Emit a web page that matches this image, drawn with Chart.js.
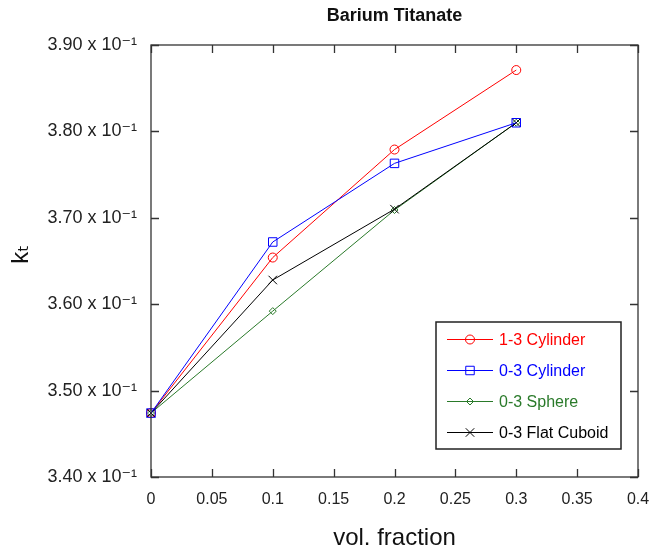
<!DOCTYPE html>
<html lang="en">
<head>
<meta charset="UTF-8">
<title>Barium Titanate</title>
<script src="https://cdn.jsdelivr.net/npm/chart.js@4.4.1/dist/chart.umd.min.js"></script>
<style>
    html, body { margin: 0; padding: 0; background: #fff; }
    .chart-box { position: relative; width: 652px; height: 556px; }
</style>
</head>
<body>
<div class="chart-box"><canvas id="myChart"></canvas></div>
<script>
    // data
    var volFraction = [0, 0.1, 0.2, 0.3];
    var cyl13 = [0.3474, 0.3654, 0.3779, 0.3871];
    var cyl03 = [0.3474, 0.3672, 0.3763, 0.3810];
    var sphere03 = [0.3474, 0.3592, 0.3709, 0.3810];
    var cuboid03 = [0.3474, 0.3628, 0.3710, 0.3810];

    var seriesNames = ['1-3 Cylinder', '0-3 Cylinder', '0-3 Sphere', '0-3 Flat Cuboid'];
    var seriesColors = ['#ff0000', '#0000ff', '#2a7a2a', '#000000'];
    var markers = ['circle', 'rect', 'rectRot', 'crossRot'];
    var markerSizes = [4.5, 6, 3.5, 6];
    var drawOrder = [3, 0, 2, 1]; // blue ends up on top, like the original

    var xTickLabels = ['0', '0.05', '0.1', '0.15', '0.2', '0.25', '0.3', '0.35', '0.4'];
    var yTickLabels = ['3.40 x 10\u207B\u00B9', '3.50 x 10\u207B\u00B9', '3.60 x 10\u207B\u00B9',
                       '3.70 x 10\u207B\u00B9', '3.80 x 10\u207B\u00B9', '3.90 x 10\u207B\u00B9'];

    var fontFam = '"Liberation Sans", Arial, "DejaVu Sans", sans-serif';
    var allSeries = [cyl13, cyl03, sphere03, cuboid03];

    var datasets = allSeries.map(function (vals, i) {
        return {
            label: seriesNames[i],
            data: volFraction.map(function (x, j) { return { x: x, y: vals[j] }; }),
            borderColor: seriesColors[i],
            backgroundColor: 'rgba(0,0,0,0)',
            borderWidth: 1,
            pointStyle: markers[i],
            pointRadius: markerSizes[i],
            pointBorderWidth: 1,
            pointBorderColor: seriesColors[i],
            pointBackgroundColor: 'rgba(0,0,0,0)',
            tension: 0,
            order: drawOrder[i],
            clip: false
        };
    });

    // box around the plot with ticks pointing inwards on all four sides
    var frameTicks = {
        id: 'frameTicks',
        afterDatasetsDraw: function (chart) {
            var ctx = chart.ctx, a = chart.chartArea;
            var xs = chart.scales.x, ys = chart.scales.y;
            ctx.save();
            ctx.strokeStyle = '#333';
            ctx.lineWidth = 1.3;
            ctx.strokeRect(a.left, a.top, a.right - a.left, a.bottom - a.top);
            ctx.beginPath();
            xs.ticks.forEach(function (t) {
                var px = Math.round(xs.getPixelForValue(t.value)) + 0.5;
                ctx.moveTo(px, a.bottom); ctx.lineTo(px, a.bottom - 8);
                ctx.moveTo(px, a.top); ctx.lineTo(px, a.top + 8);
            });
            ys.ticks.forEach(function (t) {
                var py = Math.round(ys.getPixelForValue(t.value)) + 0.5;
                ctx.moveTo(a.left, py); ctx.lineTo(a.left + 8, py);
                ctx.moveTo(a.right, py); ctx.lineTo(a.right - 8, py);
            });
            ctx.stroke();
            ctx.restore();
        }
    };

    // boxed legend in the lower right corner
    var boxLegend = {
        id: 'boxLegend',
        afterDraw: function (chart) {
            var ctx = chart.ctx, a = chart.chartArea;
            var bx = a.right - 202, by = a.bottom - 155, bw = 185, bh = 127;
            ctx.save();
            ctx.fillStyle = '#fff';
            ctx.fillRect(bx, by, bw, bh);
            ctx.strokeStyle = '#222';
            ctx.lineWidth = 1.5;
            ctx.strokeRect(bx, by, bw, bh);
            ctx.font = '16px ' + fontFam;
            ctx.textBaseline = 'middle';
            chart.data.datasets.forEach(function (ds, i) {
                var y = by + 17.5 + i * 31;
                ctx.strokeStyle = ds.borderColor;
                ctx.lineWidth = 1;
                ctx.beginPath();
                ctx.moveTo(bx + 11, y); ctx.lineTo(bx + 57, y);
                ctx.stroke();
                ctx.fillStyle = 'rgba(0,0,0,0)';
                Chart.helpers.drawPoint(ctx, {
                    pointStyle: ds.pointStyle, radius: ds.pointRadius,
                    rotation: 0, borderWidth: 1
                }, bx + 34, y);
                ctx.fillStyle = ds.borderColor;
                ctx.fillText(ds.label, bx + 63, y + 1);
            });
            ctx.restore();
        }
    };

    var ctx = document.getElementById('myChart').getContext('2d');
    var myChart = new Chart(ctx, {
        type: 'line',
        data: { datasets: datasets },
        plugins: [frameTicks, boxLegend],
        options: {
            responsive: true,
            maintainAspectRatio: false,
            animation: false,
            layout: { padding: { left: 0, right: 14, top: 0, bottom: 0 } },
            plugins: {
                legend: { display: false },
                tooltip: { enabled: false }
            },
            scales: {
                x: {
                    type: 'linear',
                    min: 0, max: 0.4,
                    grid: { display: false, drawTicks: false },
                    border: { display: false },
                    ticks: {
                        stepSize: 0.05,
                        color: '#222',
                        padding: 13,
                        maxRotation: 0,
                        font: { family: fontFam, size: 16 },
                        callback: function (v, i) { return xTickLabels[i]; }
                    },
                    title: {
                        display: true,
                        text: 'vol. fraction',
                        color: '#111',
                        font: { family: fontFam, size: 24 },
                        padding: { top: 3, bottom: 3 }
                    },
                    afterFit: function (scale) {
                        scale.height = 79;
                        scale.paddingLeft = 0;
                        scale.paddingRight = 0;
                    }
                },
                // top axis only carries the title, centred over the plot
                xTop: {
                    type: 'linear',
                    position: 'top',
                    min: 0, max: 0.4,
                    grid: { display: false, drawTicks: false },
                    border: { display: false },
                    ticks: { display: false },
                    title: {
                        display: true,
                        text: 'Barium Titanate',
                        color: '#111',
                        font: { family: fontFam, size: 18, weight: 'bold' },
                        padding: { top: 5, bottom: 0 }
                    },
                    afterFit: function (scale) {
                        scale.height = 45;
                        scale.paddingLeft = 0;
                        scale.paddingRight = 0;
                    }
                },
                y: {
                    type: 'linear',
                    min: 0.34, max: 0.39,
                    grid: { display: false, drawTicks: false },
                    border: { display: false },
                    ticks: {
                        stepSize: 0.01,
                        color: '#222',
                        padding: 14,
                        font: { family: fontFam, size: 18 },
                        callback: function (v, i) { return yTickLabels[i]; }
                    },
                    title: {
                        display: true,
                        text: '  k\u209C',
                        color: '#111',
                        font: { family: fontFam, size: 24 },
                        padding: { top: 7, bottom: 0 }
                    },
                    afterFit: function (scale) { scale.width = 151; }
                }
            }
        }
    });
</script>
</body>
</html>
